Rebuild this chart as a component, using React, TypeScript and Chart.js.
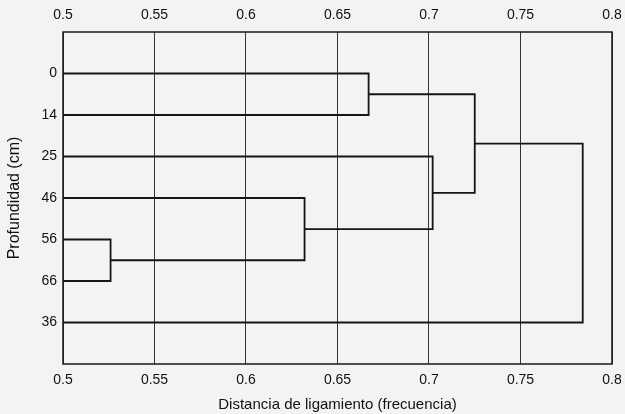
import React, { useEffect, useRef } from "react";
import { Chart, registerables } from "chart.js";

Chart.register(...registerables);

// Leaves (depth in cm), top to bottom
const leafLabels = ["0", "14", "25", "46", "56", "66", "36"];
// Merges: node ids 0..6 are leaves, 7.. are merges in order
const mergeLeft = [0, 4, 3, 2, 7, 11];
const mergeRight = [1, 5, 8, 9, 10, 6];
const mergeHeight = [0.667, 0.526, 0.632, 0.702, 0.725, 0.784];
const xTicks = [0.5, 0.55, 0.6, 0.65, 0.7, 0.75, 0.8];

const xMin = 0.5;
const xMax = 0.8;

function buildSegments() {
  const nodeX: number[] = leafLabels.map(() => xMin);
  const nodeY: number[] = leafLabels.map((_, i) => i);
  const sets: { x: number; y: number }[][] = [];
  mergeHeight.forEach((h, k) => {
    const a = mergeLeft[k];
    const b = mergeRight[k];
    sets.push([
      { x: nodeX[a], y: nodeY[a] },
      { x: h, y: nodeY[a] },
      { x: h, y: nodeY[b] },
      { x: nodeX[b], y: nodeY[b] },
    ]);
    nodeX.push(h);
    nodeY.push((nodeY[a] + nodeY[b]) / 2);
  });
  return sets;
}

const framePlugin = {
  id: "frame",
  afterDraw(chart: any) {
    const { ctx, chartArea } = chart;
    ctx.save();
    ctx.strokeStyle = "#1a1a1a";
    ctx.lineWidth = 1.5;
    ctx.strokeRect(chartArea.left, chartArea.top, chartArea.right - chartArea.left, chartArea.bottom - chartArea.top);
    ctx.restore();
  },
};

const bgPlugin = {
  id: "bg",
  beforeDraw(chart: any) {
    const { ctx, width, height } = chart;
    ctx.save();
    ctx.fillStyle = "#f3f3f1";
    ctx.fillRect(0, 0, width, height);
    ctx.restore();
  },
};

const fmt = (v: number) => {
  const r = Math.round(v * 100) / 100;
  return xTicks.some((t) => Math.abs(t - r) < 1e-6) ? String(r) : "";
};

export default function App() {
  const ref = useRef<HTMLCanvasElement | null>(null);
  useEffect(() => {
    document.body.style.margin = "0";
    if (!ref.current) return;
    const segs = buildSegments();
    const family = "'Liberation Sans', Arial, sans-serif";
    const font = { family, size: 14 };
    const fitX = (h: number) => (s: any) => {
      s.height = h;
      s.paddingLeft = 0;
      s.paddingRight = 0;
    };
    const chart = new Chart(ref.current, {
      type: "scatter",
      data: {
        datasets: segs.map((pts) => ({
          data: pts,
          showLine: true,
          borderColor: "#151515",
          borderWidth: 1.8,
          pointRadius: 0,
          fill: false,
          tension: 0,
        })),
      },
      options: {
        animation: false,
        responsive: true,
        maintainAspectRatio: false,
        layout: { padding: { right: 13, top: 0, left: 0, bottom: 0 } },
        plugins: { legend: { display: false }, tooltip: { enabled: false } },
        scales: {
          x: {
            type: "linear",
            position: "bottom",
            min: xMin,
            max: xMax,
            afterBuildTicks: (s: any) => {
              s.ticks = xTicks.map((v) => ({ value: v }));
            },
            afterFit: fitX(50),
            ticks: { font, color: "#111", padding: 8, callback: (v: any) => fmt(Number(v)), maxRotation: 0 },
            grid: { color: "#333", lineWidth: 1, drawTicks: false },
            border: { display: false },
            title: {
              display: true,
              text: "Distancia de ligamiento (frecuencia)",
              font: { family, size: 15 },
              color: "#111",
              padding: { top: 2, bottom: 0 },
            },
          },
          x2: {
            type: "linear",
            position: "top",
            min: xMin,
            max: xMax,
            afterBuildTicks: (s: any) => {
              s.ticks = xTicks.map((v) => ({ value: v }));
            },
            afterFit: fitX(32),
            ticks: { font, color: "#111", padding: 8, callback: (v: any) => fmt(Number(v)), maxRotation: 0 },
            grid: { display: false, drawTicks: false },
            border: { display: false },
          },
          y: {
            type: "linear",
            reverse: true,
            min: -1,
            max: 7,
            afterBuildTicks: (s: any) => {
              s.ticks = leafLabels.map((_, i) => ({ value: i }));
            },
            afterFit: (s: any) => {
              s.width = 63;
            },
            ticks: {
              font,
              color: "#111",
              padding: 6,
              callback: (v: any) => leafLabels[Number(v)] ?? "",
            },
            grid: { display: false, drawTicks: false },
            border: { display: false },
            title: {
              display: true,
              text: "Profundidad (cm)",
              font: { family, size: 16 },
              color: "#111",
              padding: { top: 5, bottom: 4 },
            },
          },
        },
      },
      plugins: [bgPlugin, framePlugin],
    } as any);
    return () => chart.destroy();
  }, []);
  return (
    <div style={{ width: 625, height: 414, position: "relative" }}>
      <canvas ref={ref} />
    </div>
  );
}
